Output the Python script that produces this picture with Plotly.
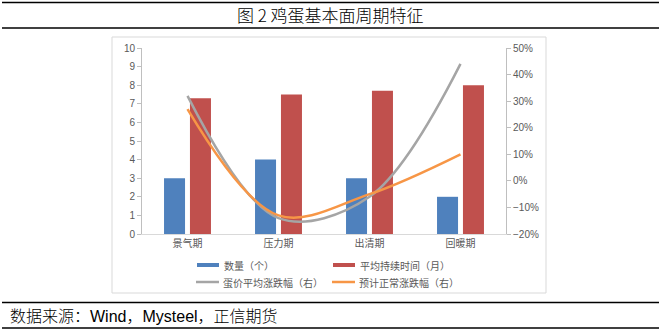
import plotly.graph_objects as go

categories = ["景气期", "压力期", "出清期", "回暖期"]
count_vals = [3, 4, 3, 2]
duration_vals = [7.3, 7.5, 7.7, 8.0]
egg_price_chg = [32, -14, -6, 44]
expected_chg = [27, -13, -5, 10]
series_names = ["数量（个）", "平均持续时间（月）", "蛋价平均涨跌幅（右）", "预计正常涨跌幅（右）"]
series_colors = ["#4F81BD", "#C0504D", "#A5A5A5", "#F79646"]

W, H = 661, 333
L, R, T, B = 142, 155, 48, 99
PW, PH = W - L - R, H - T - B

def px(x):
    return (x - L) / PW

def py(y):
    return (H - B - y) / PH

tick_font = dict(family="Liberation Sans, Noto Sans CJK SC", size=10, color="#595959")
cjk_font = dict(family="Noto Sans CJK SC", size=10, color="#595959")

fig = go.Figure()
fig.add_trace(go.Bar(x=categories, y=count_vals, name=series_names[0],
                     marker=dict(color=series_colors[0], line=dict(width=0))))
fig.add_trace(go.Bar(x=categories, y=duration_vals, name=series_names[1],
                     marker=dict(color=series_colors[1], line=dict(width=0))))
fig.add_trace(go.Scatter(x=categories, y=egg_price_chg, name=series_names[2],
                         yaxis="y2", mode="lines",
                         line=dict(color=series_colors[2], width=2.5, shape="spline", smoothing=1)))
fig.add_trace(go.Scatter(x=categories, y=expected_chg, name=series_names[3],
                         yaxis="y2", mode="lines",
                         line=dict(color=series_colors[3], width=2.5, shape="spline", smoothing=1)))

shapes = []
# chart frame
shapes.append(dict(type="rect", xref="paper", yref="paper",
                   x0=px(112), x1=px(546), y0=py(293), y1=py(37),
                   line=dict(color="#D9D9D9", width=1), layer="below"))
# horizontal rules
for yy in [2.5, 28, 302.5, 328]:
    shapes.append(dict(type="line", xref="paper", yref="paper",
                       x0=px(2), x1=px(659), y0=py(yy), y1=py(yy),
                       line=dict(color="black", width=1.6)))

annotations = [
    dict(text="图 2 鸡蛋基本面周期特征", xref="paper", yref="paper",
         x=px(330), y=py(15), showarrow=False, xanchor="center", yanchor="middle",
         font=dict(family="Noto Sans CJK SC", size=17, color="black", weight=300)),
    dict(text="数据来源：Wind，Mysteel，正信期货", xref="paper", yref="paper",
         x=px(8), y=py(316), showarrow=False, xanchor="left", yanchor="middle",
         font=dict(family="Liberation Sans, Noto Sans CJK SC", size=16, color="black", weight=300)),
]

# manual legend (swatch positions in pixels)
legend_pos = [(197, 265, "bar"), (333, 265, "bar"), (196, 282, "line"), (332, 282, "line")]
for (x0, yc, kind), name, col in zip(legend_pos, series_names, series_colors):
    if kind == "bar":
        shapes.append(dict(type="rect", xref="paper", yref="paper",
                           x0=px(x0), x1=px(x0 + 22), y0=py(yc + 2), y1=py(yc - 2),
                           fillcolor=col, line=dict(width=0)))
    else:
        shapes.append(dict(type="line", xref="paper", yref="paper",
                           x0=px(x0), x1=px(x0 + 23), y0=py(yc), y1=py(yc),
                           line=dict(color=col, width=2.5)))
    annotations.append(dict(text=name, xref="paper", yref="paper",
                            x=px(x0 + 25), y=py(yc), showarrow=False,
                            xanchor="left", yanchor="middle", font=cjk_font))

fig.update_layout(
    width=W, height=H,
    margin=dict(l=L, r=R, t=T, b=B),
    paper_bgcolor="white", plot_bgcolor="white",
    barmode="group", bargap=0.43, bargroupgap=0.19,
    showlegend=False,
    xaxis=dict(showline=True, linecolor="#D9D9D9", linewidth=1, ticks="",
               tickfont=cjk_font, showgrid=False, zeroline=False),
    yaxis=dict(range=[0, 10], dtick=1, showline=True, linecolor="#BFBFBF",
               ticks="outside", ticklen=4, tickcolor="#BFBFBF",
               tickfont=tick_font, showgrid=False, zeroline=False),
    yaxis2=dict(range=[-20, 50], dtick=10, ticksuffix="%", overlaying="y", side="right",
                showline=True, linecolor="#BFBFBF", ticks="outside", ticklen=4,
                tickcolor="#BFBFBF", tickfont=tick_font, showgrid=False, zeroline=False),
    shapes=shapes,
    annotations=annotations,
)

fig.write_html("out.html")
